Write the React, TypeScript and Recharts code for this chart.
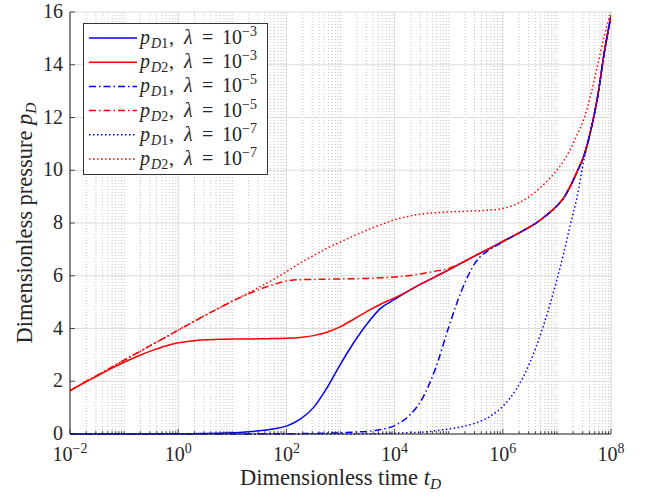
import { LineChart, Line, XAxis, YAxis, CartesianGrid, Label, ReferenceLine } from 'recharts';

// log10(t_D) sample points shared by all six curves (denser at the steep late rise)
const LOG_T = [-2, -1.75, -1.5, -1.25, -1, -0.75, -0.5, -0.25, 0, 0.25, 0.5, 0.75, 1, 1.25, 1.5, 1.75, 2, 2.25, 2.5, 2.75, 3, 3.25, 3.5, 3.75, 4, 4.25, 4.5, 4.75, 5, 5.25, 5.5, 5.75, 6, 6.25, 6.5, 6.75, 7, 7.125, 7.25, 7.375, 7.5, 7.625, 7.75, 7.875, 8];

const PD1_L3 = [0, 0, 0, 0, 0, 0, 0.003, 0.005, 0.008, 0.012, 0.018, 0.03, 0.05, 0.08, 0.12, 0.19, 0.3, 0.55, 1.0, 1.75, 2.65, 3.48, 4.2, 4.78, 5.1, 5.42, 5.7, 5.96, 6.22, 6.5, 6.77, 7.03, 7.3, 7.57, 7.85, 8.2, 8.65, 8.95, 9.4, 9.95, 10.55, 11.5, 12.75, 14.45, 15.85];
const PD2_L3 = [1.64, 1.93, 2.2, 2.47, 2.72, 2.95, 3.15, 3.33, 3.46, 3.53, 3.57, 3.59, 3.6, 3.6, 3.61, 3.62, 3.63, 3.66, 3.73, 3.86, 4.07, 4.36, 4.66, 4.93, 5.16, 5.42, 5.7, 5.96, 6.22, 6.5, 6.77, 7.03, 7.3, 7.57, 7.85, 8.2, 8.65, 8.95, 9.4, 9.95, 10.55, 11.5, 12.75, 14.45, 15.85];
const PD1_L5 = [0, 0, 0, 0, 0, 0, 0, 0, 0, 0, 0, 0, 0.002, 0.003, 0.005, 0.007, 0.01, 0.015, 0.02, 0.03, 0.045, 0.07, 0.1, 0.17, 0.32, 0.66, 1.3, 2.45, 4.05, 5.5, 6.52, 6.98, 7.28, 7.57, 7.85, 8.2, 8.65, 8.95, 9.4, 9.95, 10.55, 11.5, 12.75, 14.45, 15.85];
const PD2_L5 = [1.64, 1.94, 2.22, 2.51, 2.8, 3.08, 3.37, 3.65, 3.94, 4.22, 4.5, 4.77, 5.03, 5.27, 5.48, 5.66, 5.8, 5.85, 5.86, 5.87, 5.88, 5.89, 5.9, 5.92, 5.95, 6.0, 6.08, 6.17, 6.28, 6.5, 6.77, 7.03, 7.3, 7.57, 7.85, 8.2, 8.65, 8.95, 9.4, 9.95, 10.55, 11.5, 12.75, 14.45, 15.85];
const PD1_L7 = [0, 0, 0, 0, 0, 0, 0, 0, 0, 0, 0, 0, 0, 0, 0, 0, 0, 0, 0, 0, 0, 0.003, 0.008, 0.015, 0.03, 0.05, 0.07, 0.12, 0.19, 0.28, 0.42, 0.65, 1.05, 1.7, 2.7, 4.1, 5.85, 6.85, 7.95, 9.0, 10.4, 11.5, 12.75, 14.45, 15.85];
const PD2_L7 = [1.64, 1.94, 2.22, 2.51, 2.8, 3.08, 3.37, 3.65, 3.94, 4.22, 4.5, 4.77, 5.04, 5.3, 5.57, 5.85, 6.15, 6.48, 6.76, 7.04, 7.28, 7.52, 7.74, 7.94, 8.12, 8.25, 8.34, 8.39, 8.42, 8.44, 8.46, 8.49, 8.55, 8.72, 9.02, 9.45, 10.0, 10.35, 10.8, 11.35, 11.95, 12.85, 13.95, 15.1, 16.0];

const X_MAJOR = [1e-2, 1e0, 1e2, 1e4, 1e6, 1e8];
const DECADES = [-2, -1, 0, 1, 2, 3, 4, 5, 6, 7];
const MINOR_STEPS = [2, 3, 4, 5, 6, 7, 8, 9];
const Y_TICKS = [0, 2, 4, 6, 8, 10, 12, 14, 16];

const X_MINOR = DECADES.flatMap((d) => [
  ...(d % 2 !== 0 ? [10 ** d] : []),
  ...MINOR_STEPS.map((m) => m * 10 ** d),
]);
const X_TICKS = [...X_MAJOR, ...X_MINOR].sort((a, b) => a - b);

const BLUE = '#0000ff';
const RED = '#ff0000';
const DASHDOT = '7 3 1.5 3';
const DOTTED = '1.5 2.5';
const FONT = '"Liberation Serif", "DejaVu Serif", serif';
const AXIS = '#262626';
const TEXT = '#262626';

const SERIES = [
  { key: 'pd1_3', values: PD1_L3, color: BLUE, dash: undefined, well: '1', exp: '3' },
  { key: 'pd2_3', values: PD2_L3, color: RED, dash: undefined, well: '2', exp: '3' },
  { key: 'pd1_5', values: PD1_L5, color: BLUE, dash: DASHDOT, well: '1', exp: '5' },
  { key: 'pd2_5', values: PD2_L5, color: RED, dash: DASHDOT, well: '2', exp: '5' },
  { key: 'pd1_7', values: PD1_L7, color: BLUE, dash: DOTTED, well: '1', exp: '7' },
  { key: 'pd2_7', values: PD2_L7, color: RED, dash: DOTTED, well: '2', exp: '7' },
];

const rows = LOG_T.map((e, i) => {
  const row: Record<string, number> = { t: 10 ** e };
  SERIES.forEach((s) => (row[s.key] = s.values[i]));
  return row;
});

function isMajor(v: number) {
  const e = Math.log10(v);
  const r = Math.round(e);
  return Math.abs(e - r) < 1e-6 && r % 2 === 0;
}

function XTick(props: any) {
  const { x, y, payload } = props;
  const v = payload.value;
  const major = isMajor(v);
  const exp = Math.round(Math.log10(v));
  return (
    <g>
      <line x1={x} x2={x} y1={y} y2={y - (major ? 5 : 3)} stroke={AXIS} strokeWidth={0.8} />
      {major && (
        <text x={x} y={y + 27} textAnchor="middle" fontFamily={FONT} fontSize={20} fill={TEXT}>
          10
          <tspan fontSize={14} dy={-8}>{exp < 0 ? `\u2212${-exp}` : exp}</tspan>
        </text>
      )}
    </g>
  );
}

function YTick(props: any) {
  const { x, y, payload } = props;
  return (
    <g>
      <line x1={x} x2={x + 5} y1={y} y2={y} stroke={AXIS} strokeWidth={0.8} />
      <text x={x - 7} y={y + 6} textAnchor="end" fontFamily={FONT} fontSize={20} fill={TEXT}>
        {payload.value}
      </text>
    </g>
  );
}

function Legend() {
  return (
    <svg width={185} height={152} style={{ position: 'absolute', left: 83, top: 23 }}>
      <rect x={0.5} y={0.5} width={184} height={151} fill="#fff" stroke="#333" strokeWidth={1} />
      {SERIES.map((s, i) => {
        const cy = 15 + i * 24.2;
        return (
          <g key={s.key}>
            <line x1={6} x2={54} y1={cy} y2={cy} stroke={s.color} strokeWidth={1.5} strokeDasharray={s.dash} />
            <text y={cy + 6} fontFamily={FONT} fontSize={20} fill={TEXT}>
              <tspan x={57} fontStyle="italic">p</tspan>
              <tspan x={68} fontSize={14} dy={4} fontStyle="italic">D</tspan>
              <tspan fontSize={14}>{s.well}</tspan>
              <tspan x={86} dy={-4}>,</tspan>
              <tspan x={101} fontStyle="italic">λ</tspan>
              <tspan x={119}>=</tspan>
              <tspan x={139}>10</tspan>
              <tspan x={159} fontSize={14} dy={-8}>{`\u2212${s.exp}`}</tspan>
            </text>
          </g>
        );
      })}
    </svg>
  );
}

export default function App() {
  return (
    <div style={{ position: 'absolute', left: 0, top: 0, width: 648, height: 496, background: '#fff' }}>
      <LineChart width={648} height={496} data={rows} margin={{ top: 12, right: 37, bottom: 0, left: 0 }}>
        {/* minor grid follows every x tick, dotted */}
        <CartesianGrid horizontal={false} stroke="#c4c4c4" strokeDasharray="1 2" />
        <CartesianGrid vertical={false} stroke="#dcdcdc" />
        {X_MAJOR.map((v) => (
          <ReferenceLine key={v} x={v} stroke="#dcdcdc" strokeWidth={1} />
        ))}
        <XAxis
          dataKey="t"
          type="number"
          scale="log"
          domain={[1e-2, 1e8]}
          allowDataOverflow
          ticks={X_TICKS}
          interval={0}
          tick={(p: any) => <XTick {...p} />}
          tickLine={false}
          tickSize={0}
          tickMargin={0}
          stroke={AXIS}
          height={62}
        >
          <Label
            content={(p: any) => {
              const vb = p.viewBox;
              return (
                <text x={vb.x + vb.width / 2} y={vb.y + 51} textAnchor="middle" fontFamily={FONT} fontSize={22.5} fill={TEXT}>
                  Dimensionless time <tspan fontStyle="italic">t</tspan>
                  <tspan fontStyle="italic" fontSize={15.5} dy={4}>D</tspan>
                </text>
              );
            }}
          />
        </XAxis>
        <YAxis
          type="number"
          domain={[0, 16]}
          ticks={Y_TICKS}
          interval={0}
          tick={(p: any) => <YTick {...p} />}
          tickLine={false}
          tickSize={0}
          tickMargin={0}
          stroke={AXIS}
          width={70}
        >
          <Label
            content={(p: any) => {
              const vb = p.viewBox;
              const cx = vb.x + 32;
              const cy = vb.y + vb.height / 2;
              return (
                <text x={cx} y={cy} transform={`rotate(-90 ${cx} ${cy})`} textAnchor="middle" fontFamily={FONT} fontSize={22.5} fill={TEXT}>
                  Dimensionless pressure <tspan fontStyle="italic">p</tspan>
                  <tspan fontStyle="italic" fontSize={15.5} dy={4}>D</tspan>
                </text>
              );
            }}
          />
        </YAxis>
        {SERIES.map((s) => (
          <Line
            key={s.key}
            type="monotone"
            dataKey={s.key}
            stroke={s.color}
            strokeWidth={1.5}
            strokeDasharray={s.dash}
            dot={false}
            activeDot={false}
            isAnimationActive={false}
          />
        ))}
      </LineChart>
      <Legend />
    </div>
  );
}
